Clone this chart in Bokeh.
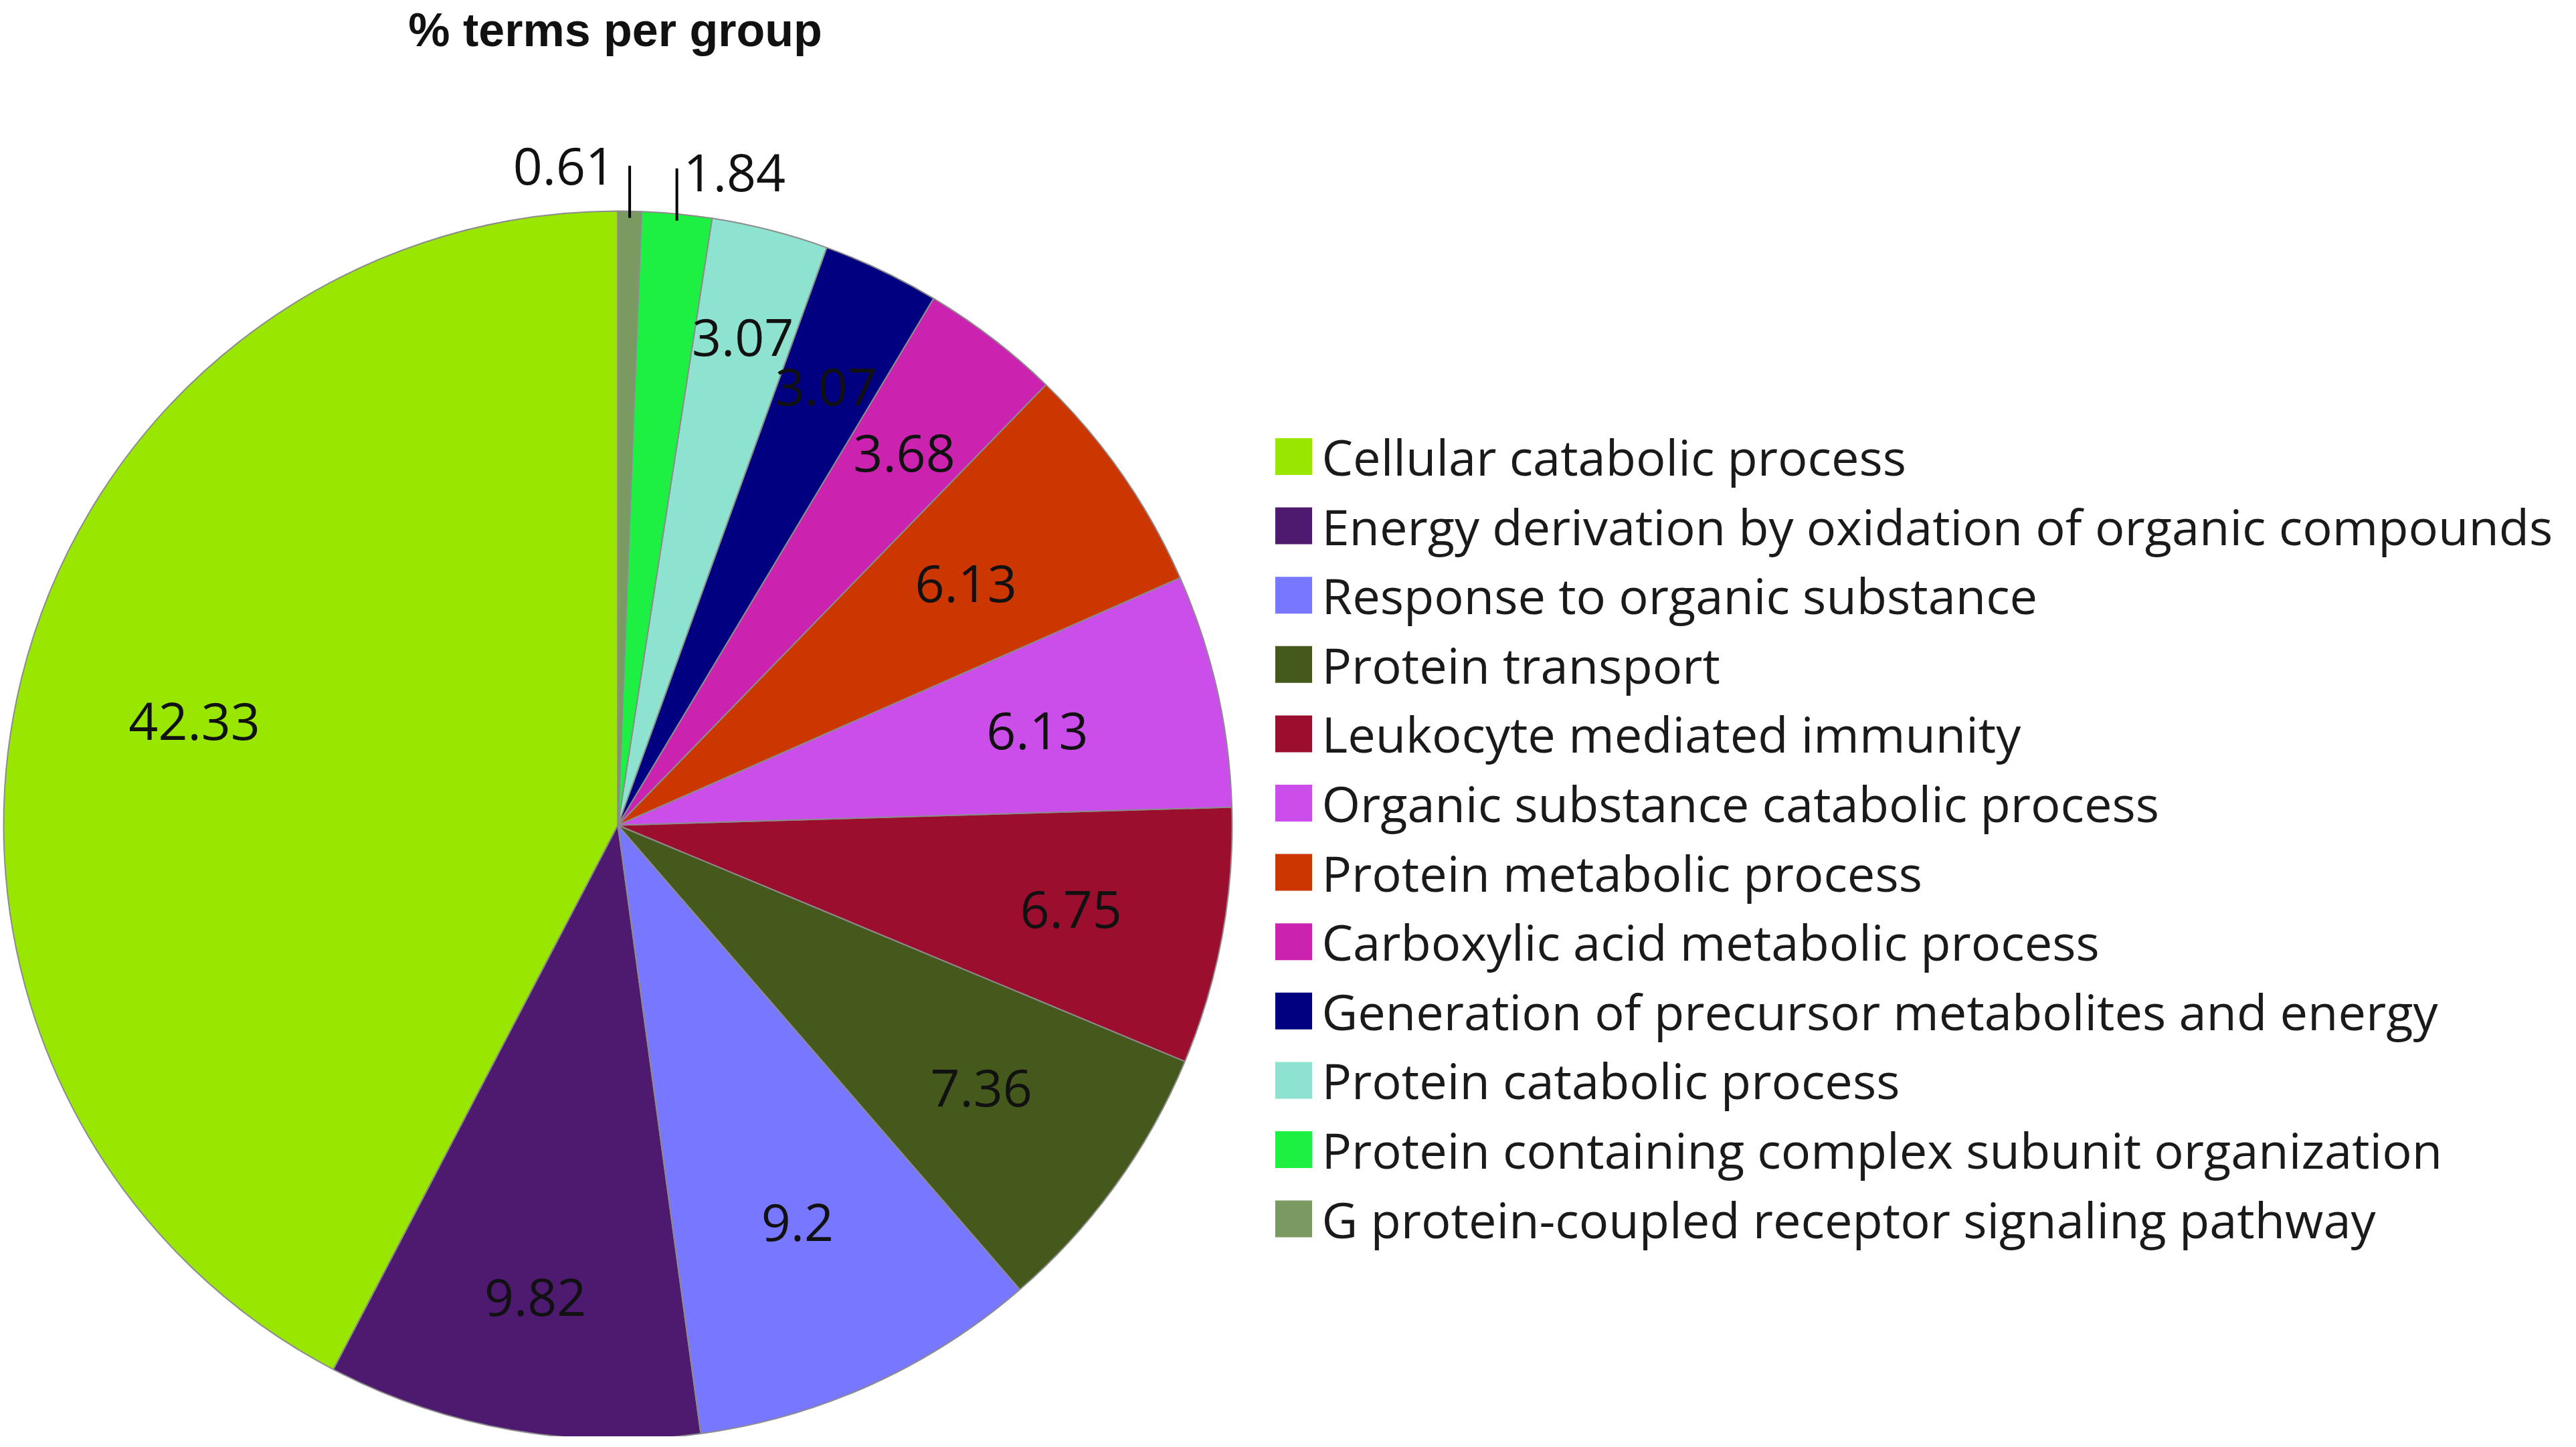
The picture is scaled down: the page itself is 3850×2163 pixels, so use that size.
import numpy as np
from bokeh.plotting import figure
from bokeh.models import Range1d, ColumnDataSource
from bokeh.core.properties import value
from bokeh.embed import file_html
from bokeh.resources import INLINE

# ---------------- data ----------------
title_text = "% terms per group"
categories = [
    "Cellular catabolic process",
    "Energy derivation by oxidation of organic compounds",
    "Response to organic substance",
    "Protein transport",
    "Leukocyte mediated immunity",
    "Organic substance catabolic process",
    "Protein metabolic process",
    "Carboxylic acid metabolic process",
    "Generation of precursor metabolites and energy",
    "Protein catabolic process",
    "Protein containing complex subunit organization",
    "G protein-coupled receptor signaling pathway",
]
values = [42.33, 9.82, 9.2, 7.36, 6.75, 6.13, 6.13, 3.68, 3.07, 3.07, 1.84, 0.61]
value_labels = ["42.33", "9.82", "9.2", "7.36", "6.75", "6.13", "6.13",
                "3.68", "3.07", "3.07", "1.84", "0.61"]
colors = ["#99E600", "#4D1A70", "#7777FF", "#45591D", "#9C0E2E", "#CC4EEA",
          "#CC3600", "#CC22B0", "#000080", "#8DE3CF", "#1EF043", "#7A9A62"]

# ---------------- layout / style ----------------
W, H = 3834, 2147
CX, CY, R = 923, 914, 918
# radial position (fraction of radius) of each inside label, as Excel's "best fit" placed them
label_frac = [0.71, 0.78, 0.71, 0.73, 0.75, 0.70, 0.69, 0.765, 0.79, 0.82, 1.0, 1.0]
OUTSIDE_LIMIT = 2.0
FONT = "Open Sans"

p = figure(width=W, height=H, output_backend="svg", toolbar_location=None,
           x_range=Range1d(0, W), y_range=Range1d(0, H), min_border=0,
           x_axis_location=None, y_axis_location=None)
p.grid.visible = False
p.outline_line_color = None
p.background_fill_color = "white"
p.border_fill_color = "white"

vals = np.array(values, dtype=float)
total = vals.sum()
cum = np.concatenate([[0.0], np.cumsum(vals)])
start = np.pi / 2 + 2 * np.pi * cum[:-1] / total
end = np.pi / 2 + 2 * np.pi * cum[1:] / total
mid = (start + end) / 2

src = ColumnDataSource(dict(start=start, end=end, color=colors, cat=categories))
p.wedge(x=CX, y=CY, radius=R, start_angle="start", end_angle="end",
        direction="anticlock", fill_color="color", line_color="#8c8c8c",
        line_width=2, source=src)

# inside labels
inside = vals >= OUTSIDE_LIMIT
frac = np.array(label_frac)
lx = CX + frac[inside] * R * np.cos(mid[inside])
ly = CY + frac[inside] * R * np.sin(mid[inside])
p.text(x=lx, y=ly, text=[t for t, k in zip(value_labels, inside) if k],
       text_font=value(FONT), text_font_size="77px", text_color="#111111",
       text_align="center", text_baseline="middle")

# outside labels with leader lines
for i in np.where(~inside)[0]:
    ex = CX + R * np.cos(mid[i])
    ey = CY + R * np.sin(mid[i])
    top = ey + 68
    p.segment(x0=[ex], y0=[ey - 10], x1=[ex], y1=[top], line_color="black", line_width=4)
    if ex - CX < 0.05 * R:
        p.text(x=[ex - 22], y=[top], text=[value_labels[i]], text_font=value(FONT),
               text_font_size="77px", text_color="#111111",
               text_align="right", text_baseline="middle")
    else:
        p.text(x=[ex + 10], y=[top - 6], text=[value_labels[i]], text_font=value(FONT),
               text_font_size="77px", text_color="#111111",
               text_align="left", text_baseline="middle")

# legend
n = len(categories)
row_y = 2155 - (690 + 103.6 * np.arange(n))
p.rect(x=[1933] * n, y=row_y, width=55, height=55, fill_color=colors, line_color=None)
p.text(x=[1975] * n, y=row_y, text=categories, text_font=value(FONT),
       text_font_size="74px", text_color="#1a1a1a",
       text_align="left", text_baseline="middle")

# title
p.text(x=[919], y=[2103], text=[title_text], text_font=value("Liberation Sans"),
       text_font_size="70px", text_font_style="bold", text_color="#111111",
       text_align="center", text_baseline="alphabetic")

open("out.html", "w").write(file_html(p, INLINE))
